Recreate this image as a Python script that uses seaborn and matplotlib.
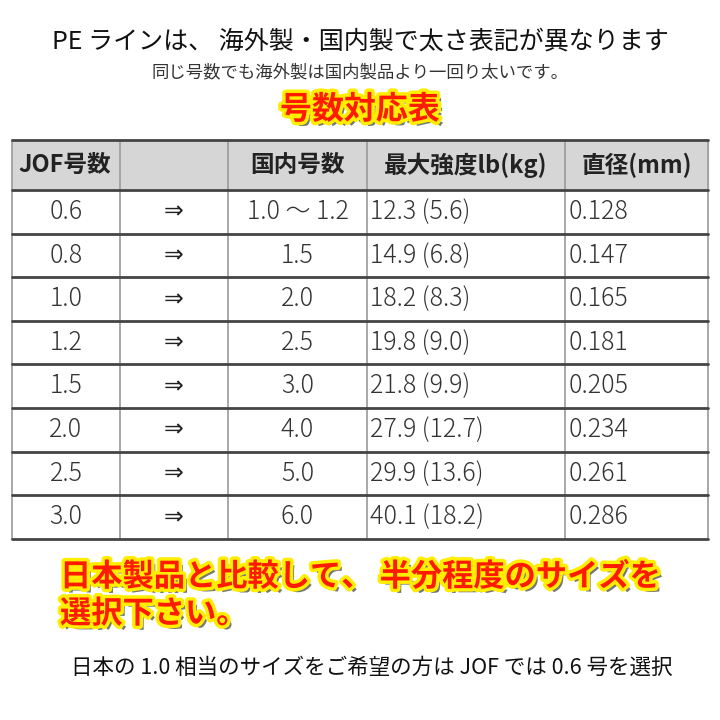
import matplotlib.pyplot as plt
import matplotlib.patheffects as pe
from matplotlib.patches import Rectangle
import seaborn as sns

sns.set_theme(style="white")
plt.rcParams["font.family"] = ["Noto Sans CJK JP", "DejaVu Sans"]

jof = ["0.6", "0.8", "1.0", "1.2", "1.5", "2.0", "2.5", "3.0"]
domestic = ["1.0 ～ 1.2", "1.5", "2.0", "2.5", "3.0", "4.0", "5.0", "6.0"]
strength_lb = ["12.3", "14.9", "18.2", "19.8", "21.8", "27.9", "29.9", "40.1"]
strength_kg = ["5.6", "6.8", "8.3", "9.0", "9.9", "12.7", "13.6", "18.2"]
diameter = ["0.128", "0.147", "0.165", "0.181", "0.205", "0.234", "0.261", "0.286"]
headers = ["JOF号数", "", "国内号数", "最大強度lb(kg)", "直径(mm)"]

col_edges = [12, 120, 228, 367, 565, 708]
header_top, header_bot = 140, 190
row_h = 43.6

fig = plt.figure(figsize=(7.2, 7.2), dpi=100)
ax = fig.add_axes([0, 0, 1, 1])
ax.set_xlim(0, 720)
ax.set_ylim(720, 0)
ax.axis("off")

ax.text(360, 42, "PE ラインは、 海外製・国内製で太さ表記が異なります",
        ha="center", va="center", fontsize=18, color="#111111")
ax.text(360, 72, "同じ号数でも海外製は国内製品より一回り太いです。",
        ha="center", va="center", fontsize=12.5, color="#333333")

red_fx = [pe.withSimplePatchShadow(offset=(3, -3), shadow_rgbFace="#555555", alpha=0.8),
          pe.Stroke(linewidth=5, foreground="#ffee00"), pe.Normal()]
ax.text(360, 110, "号数対応表", ha="center", va="center", fontsize=23,
        color="#ff1a00", fontweight="bold", path_effects=red_fx)

n = len(jof)
bottom = header_bot + n * row_h
ax.add_patch(Rectangle((col_edges[0], header_top), col_edges[-1] - col_edges[0],
                       header_bot - header_top, color="#d6d6d6", zorder=0))
# grid lines
for x in col_edges:
    ax.plot([x, x], [header_top, bottom], color="#9a9a9a", lw=1.2)
ax.plot([col_edges[0], col_edges[-1]], [header_top, header_top], color="#444444", lw=2)
for i in range(n + 1):
    y = header_bot + i * row_h
    ax.plot([col_edges[0], col_edges[-1]], [y, y], color="#444444", lw=2)

hy = (header_top + header_bot) / 2
ax.text(col_edges[0] + 6, hy, headers[0], ha="left", va="center", fontsize=17, fontweight="bold", color="#222222")
for j in (2, 3, 4):
    ax.text((col_edges[j] + col_edges[j + 1]) / 2, hy, headers[j], ha="center", va="center",
            fontsize=17, fontweight="bold", color="#222222")

body = dict(va="center", fontsize=18, color="#333333", fontweight="light",
            family=["Noto Sans CJK JP", "DejaVu Sans"])
for i in range(n):
    y = header_bot + (i + 0.5) * row_h
    ax.text((col_edges[0] + col_edges[1]) / 2, y, jof[i], ha="center", **body)
    ax.text((col_edges[1] + col_edges[2]) / 2, y, "⇒", ha="center", va="center",
            fontsize=17, color="#222222", family=["DejaVu Sans"])
    ax.text((col_edges[2] + col_edges[3]) / 2, y, domestic[i], ha="center", **body)
    ax.text(col_edges[3] + 3, y, f"{strength_lb[i]} ({strength_kg[i]})", ha="left", **body)
    ax.text(col_edges[4] + 4, y, diameter[i], ha="left", **body)

ax.text(60, 577, "日本製品と比較して、 半分程度のサイズを", ha="left", va="center", fontsize=22.5,
        color="#ff1a00", fontweight="bold", path_effects=red_fx)
ax.text(60, 614, "選択下さい。", ha="left", va="center", fontsize=22.5,
        color="#ff1a00", fontweight="bold", path_effects=red_fx)

ax.text(372, 668, "日本の 1.0 相当のサイズをご希望の方は JOF では 0.6 号を選択",
        ha="center", va="center", fontsize=15.5, color="#111111")

fig.savefig("out.png", dpi=100)
